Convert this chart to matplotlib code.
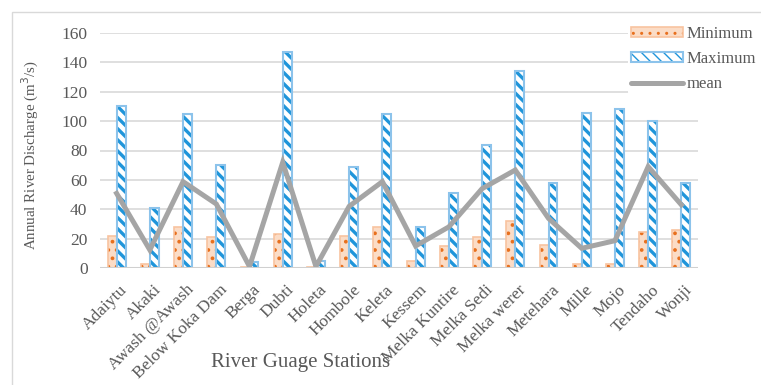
import numpy as np
import matplotlib
matplotlib.use('Agg')
import matplotlib.pyplot as plt
from matplotlib.patches import Patch, Rectangle
from matplotlib.lines import Line2D
from matplotlib.legend_handler import HandlerTuple
from matplotlib.transforms import ScaledTranslation

stations = ['Adaiytu', 'Akaki', 'Awash @Awash', 'Below Koka Dam', 'Berga', 'Dubti',
            'Holeta', 'Hombole', 'Keleta', 'Kessem', 'Melka Kuntire', 'Melka Sedi',
            'Melka werer', 'Metehara', 'Mille', 'Mojo', 'Tendaho', 'Wonji']
minimum = [22, 2.5, 27.7, 21.3, 1, 23, 0.5, 22, 27.7, 4.8, 15, 21, 32, 16, 3, 2.7, 24.3, 26]
maximum = [110, 41, 105, 70, 4, 147, 5, 69, 105, 28, 51, 84, 134, 58, 105.5, 108, 100.3, 58]
mean = [50.8, 12.3, 58.8, 43.6, 1, 72, 1, 42, 58.8, 15, 28, 54, 66.7, 33.8, 13.4, 18.6, 69, 43]

plt.rcParams['font.family'] = ['Liberation Serif', 'DejaVu Serif']

grey_txt = '#595959'
min_face, min_edge, min_dot = '#FBDCC6', '#F8C3A0', '#E8701E'
max_edge, max_hatch = '#8CC3EB', '#1F95DA'
mean_col = '#A5A5A5'
min_hatch, max_hatch_pat = '..', '\\\\\\'


def hatch_lw(patches, lw):
    for p in patches:
        p.set_hatch_linewidth(lw)


fig = plt.figure(figsize=(7.61, 3.85), dpi=100)
ax = fig.add_axes([100/761, 1-268/385, 598/761, 235/385])

x = np.arange(len(stations))
w = 0.27

# minimum: dotted peach bars
b = ax.bar(x - w/2, minimum, w, color=min_face, edgecolor=min_dot, linewidth=0, hatch=min_hatch, zorder=2)
hatch_lw(b, 1.5)
ax.bar(x - w/2, minimum, w, fill=False, edgecolor=min_edge, linewidth=1.2, zorder=3)
# maximum: white bars with blue diagonal dashes
b = ax.bar(x + w/2, maximum, w, color='white', edgecolor=max_hatch, linewidth=0, hatch=max_hatch_pat, zorder=2)
hatch_lw(b, 2.4)
ax.bar(x + w/2, maximum, w, fill=False, edgecolor=max_edge, linewidth=1.5, zorder=3)

ax.plot(x, mean, color=mean_col, linewidth=3.6, solid_joinstyle='miter', zorder=4)

ax.set_xlim(-0.5, len(stations) - 0.5)
ax.set_ylim(0, 160)
ax.set_yticks(range(0, 161, 20))
ax.grid(axis='y', color='#D9D9D9', linewidth=1.2, zorder=0)
ax.axhline(0, color='#D0D0D0', linewidth=2.2, zorder=5)
for s in ax.spines.values():
    s.set_visible(False)
ax.tick_params(length=0, labelsize=12.5, colors=grey_txt)
ax.tick_params(axis='y', pad=9)
ax.tick_params(axis='x', pad=10)
ax.set_xticks(x)
ax.set_xticklabels(stations, rotation=45, ha='right', va='top', rotation_mode='anchor')
shift = ScaledTranslation(3/100, 0, fig.dpi_scale_trans)
for lab in ax.get_xticklabels():
    lab.set_transform(lab.get_transform() + shift)

fig.text(30/761, 1-155/385, 'Annual River Discharge (m$^3$/s)', rotation=90,
         ha='center', va='center', fontsize=10.8, color=grey_txt)
fig.text(301/761, 1-362/385, 'River Guage Stations', ha='center', va='center',
         fontsize=15, color=grey_txt)

# outer chart border
fig.patches.append(Rectangle((12/761, -0.1), 1.2, 1.1 - 12/385, transform=fig.transFigure,
                             fill=False, edgecolor='#D9D9D9', linewidth=1))

p1 = Patch(facecolor=min_face, edgecolor=min_dot, linewidth=0, hatch=min_hatch)
p1.set_hatch_linewidth(1.5)
p2 = Patch(facecolor='white', edgecolor=max_hatch, linewidth=0, hatch=max_hatch_pat)
p2.set_hatch_linewidth(2.4)
h_min = (p1, Patch(fill=False, edgecolor=min_edge, linewidth=1.2))
h_max = (p2, Patch(fill=False, edgecolor=max_edge, linewidth=1.5))
h_mean = Line2D([], [], color=mean_col, linewidth=3.6, solid_capstyle='round')
leg = fig.legend([h_min, h_max, h_mean], ['Minimum', 'Maximum', 'mean'],
                 handler_map={tuple: HandlerTuple(ndivide=1, pad=0)},
                 loc='upper left', bbox_to_anchor=(628/761, 1-23/385),
                 frameon=True, facecolor='white', edgecolor='none', framealpha=1,
                 fontsize=12, handlelength=3.1, handleheight=0.55, labelspacing=0.54,
                 handletextpad=0.2, borderpad=0.2, borderaxespad=0)
for t in leg.get_texts():
    t.set_color(grey_txt)

fig.savefig('out.png', dpi=100)
